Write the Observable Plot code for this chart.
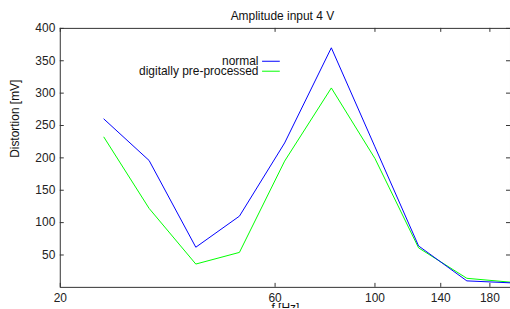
<!DOCTYPE html>
<html>
<head>
<meta charset="utf-8">
<script src="https://cdn.jsdelivr.net/npm/d3@7"></script>
<script src="https://cdn.jsdelivr.net/npm/@observablehq/plot@0.6"></script>
<style>
  html, body { margin: 0; padding: 0; background: #fff; overflow: hidden; }
  #chart { width: 510px; height: 309px; overflow: hidden; }
</style>
</head>
<body>
<div id="chart"></div>
<script>
const freqs = [25, 31.5, 40, 50, 63, 80, 100, 125, 160, 200];
const normal = [260, 196, 62, 110, 223, 370, 217, 64, 10, 7];
const preprocessed = [232, 122, 36, 54, 195, 308, 199, 61, 14, 8];
const seriesNames = ["normal", "digitally pre-processed"];
const seriesColors = ["#0000ff", "#00ff00"];
const xTicks = [20, 60, 100, 140, 180];
const yTicks = [50, 100, 150, 200, 250, 300, 350, 400];

const rows = [];
freqs.forEach((f, i) => {
  rows.push({f, v: normal[i], s: seriesNames[0]});
  rows.push({f, v: preprocessed[i], s: seriesNames[1]});
});

const W = 512, H = 309;
const mL = 60, mR = 0, mT = 28, mB = 21;
const pw = W - mL - mR, ph = H - mT - mB;
const font = "'Liberation Sans', Arial, Helvetica, sans-serif";
const frameColor = "#333";

const legendShape = { draw(ctx, l) { ctx.moveTo(0, 0); ctx.lineTo(0, -l); } };

const legendMarks = seriesNames.flatMap((name, i) => [
  Plot.text([name], { text: d => d, frameAnchor: "top-left", dx: 199, dy: 37 + 10 * i,
    textAnchor: "end", lineAnchor: "bottom", fontSize: 12, fill: "#111" }),
  Plot.vector([name], { frameAnchor: "top-left", dx: 203, dy: 33 + 10 * i, length: 17, rotate: 90,
    anchor: "start", shape: legendShape, stroke: seriesColors[i], strokeWidth: 1 })
]);

const chart = Plot.plot({
  width: W,
  height: H,
  marginLeft: mL, marginRight: mR, marginTop: mT, marginBottom: mB,
  style: { fontFamily: font, fontSize: "12px", background: "#fff", color: "#222" },
  x: { type: "log", domain: [20, 200] },
  y: { domain: [0, 400] },
  marks: [
    Plot.frame({ stroke: frameColor, strokeWidth: 1 }),
    // inward ticks on all four sides
    Plot.tickY(yTicks, { y: d => d, insetRight: pw - 4, stroke: frameColor }),
    Plot.tickY(yTicks, { y: d => d, insetLeft: pw - 4, stroke: frameColor }),
    Plot.tickX(xTicks, { x: d => d, insetTop: ph - 4, stroke: frameColor }),
    Plot.tickX(xTicks, { x: d => d, insetBottom: ph - 4, stroke: frameColor }),
    Plot.axisY({ ticks: yTicks, tickSize: 0, tickPadding: 5, label: null, fontSize: 12 }),
    Plot.axisX({ ticks: xTicks, tickSize: 0, tickPadding: 6, label: null, tickFormat: d => String(d), fontSize: 12 }),
    Plot.line(rows.filter(d => d.s === seriesNames[1]), { x: "f", y: "v", stroke: seriesColors[1], strokeWidth: 1 }),
    Plot.line(rows.filter(d => d.s === seriesNames[0]), { x: "f", y: "v", stroke: seriesColors[0], strokeWidth: 1 }),
    // title and axis labels
    Plot.text(["Amplitude input 4 V"], { text: d => d, frameAnchor: "top", dx: -3, dy: -8, lineAnchor: "bottom", fontSize: 12, fill: "#111" }),
    Plot.text(["Distortion [mV]"], { text: d => d, frameAnchor: "left", dx: -45, rotate: -90, fontSize: 12, fill: "#111" }),
    Plot.text(["f [Hz]"], { text: d => d, frameAnchor: "bottom", dy: 25, lineAnchor: "bottom", fontSize: 12, fill: "#111" }),
    ...legendMarks
  ]
});

document.getElementById("chart").append(chart);
</script>
</body>
</html>
